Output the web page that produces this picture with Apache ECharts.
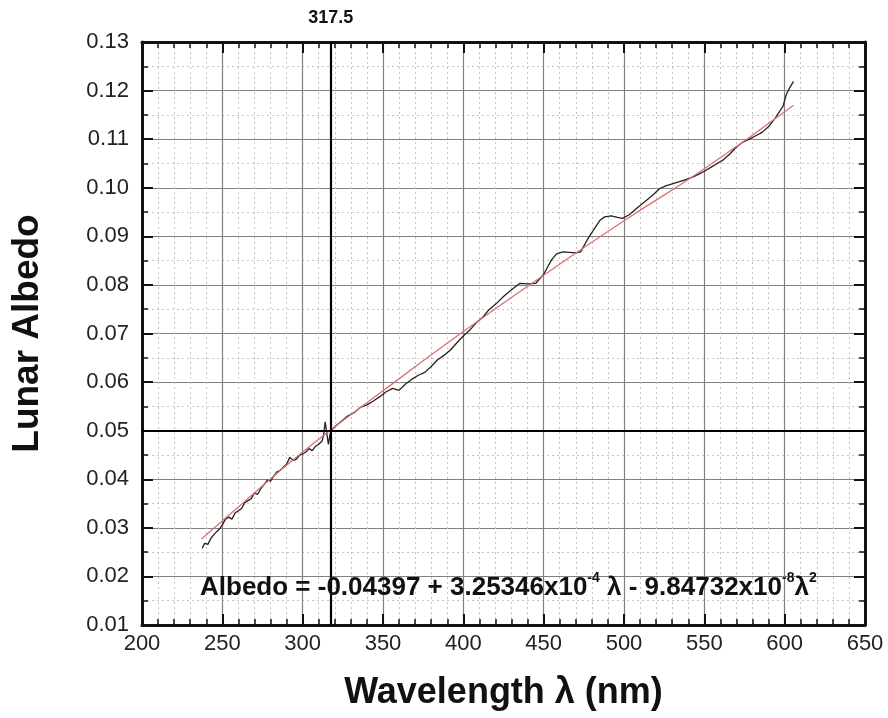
<!DOCTYPE html>
<html>
<head>
<meta charset="utf-8">
<title>Lunar Albedo</title>
<script src="https://cdn.jsdelivr.net/npm/echarts@6/dist/echarts.min.js"></script>
<style>
  html, body { margin: 0; padding: 0; background: #fff; }
  #chart { width: 888px; height: 718px; }
</style>
</head>
<body>
<div id="chart"></div>
<script>
// measured albedo (black trace)
var wavelength = [237.5, 239, 241, 243, 245, 248, 250, 252, 254, 256, 258, 260, 262, 264, 266, 268, 270, 272, 274, 276,
  278, 280, 282, 284, 286, 288, 290, 292, 294, 296, 298, 300, 302, 304, 306, 308, 310, 312, 313, 314, 315, 316, 317, 318,
  320, 324, 328, 332, 336, 340, 344, 348, 352, 356, 360, 364, 368, 372, 376, 380, 384, 388, 392, 396, 400, 404, 408, 412,
  416, 420, 425, 430, 435, 440, 445, 450, 455, 458, 462, 466, 470, 473, 477, 481, 485, 488, 492, 496, 499, 503, 507, 511,
  515, 519, 522, 526, 530, 534, 538, 542, 546, 550, 554, 558, 562, 566, 570, 574, 578, 582, 586, 590, 594, 597, 599, 601,
  603, 605.5];
var albedo = [0.0258, 0.0268, 0.0266, 0.0279, 0.0287, 0.0297, 0.0306, 0.0318, 0.0322, 0.0318, 0.0331, 0.0335, 0.0340,
  0.0352, 0.0356, 0.0360, 0.0372, 0.0369, 0.0381, 0.0389, 0.0398, 0.0396, 0.0407, 0.0415, 0.0418, 0.0425, 0.0431, 0.0445,
  0.0439, 0.0441, 0.0449, 0.0452, 0.0456, 0.0463, 0.0459, 0.0468, 0.0472, 0.0478, 0.0490, 0.0518, 0.0521, 0.0472, 0.0492,
  0.0502, 0.0508, 0.0519, 0.0530, 0.0537, 0.0548, 0.0553, 0.0561, 0.0570, 0.0580, 0.0587, 0.0583, 0.0596, 0.0606, 0.0614,
  0.0620, 0.0632, 0.0646, 0.0655, 0.0666, 0.0681, 0.0695, 0.0707, 0.0722, 0.0733, 0.0749, 0.0760, 0.0776, 0.0790, 0.0803,
  0.0802, 0.0803, 0.0822, 0.0852, 0.0864, 0.0868, 0.0867, 0.0866, 0.0868, 0.0892, 0.0913, 0.0933, 0.0940, 0.0942, 0.0939,
  0.0937, 0.0944, 0.0955, 0.0966, 0.0977, 0.0988, 0.0998, 0.1004, 0.1008, 0.1012, 0.1016, 0.1021, 0.1027, 0.1034, 0.1042,
  0.1050, 0.1058, 0.1070, 0.1084, 0.1094, 0.1100, 0.1107, 0.1114, 0.1126, 0.1143, 0.1158, 0.1168, 0.1192, 0.1205, 0.1219];

// fitted curve (red)
var fitWavelength = [237, 260, 300, 350, 400, 450, 500, 550, 605.5];
var fitAlbedo = [0.0277, 0.0343, 0.0456, 0.0582, 0.0704, 0.0820, 0.0932, 0.1039, 0.1170];

// reference lines
var markWavelength = 317.5;
var markAlbedo = 0.05;

var font = '"Liberation Sans", Arial, sans-serif';

function pairs(xs, ys) {
  var out = [];
  for (var i = 0; i < xs.length; i++) out.push([xs[i], ys[i]]);
  return out;
}

var chart = echarts.init(document.getElementById('chart'));

var tickStyle = { show: true, inside: true, length: 11, lineStyle: { color: '#111', width: 2 } };

chart.setOption({
  backgroundColor: '#fff',
  animation: false,
  textStyle: { fontFamily: font },
  grid: { left: 142, top: 42, right: 23, bottom: 93 },
  xAxis: [{
    type: 'value', min: 200, max: 650, interval: 50,
    name: 'Wavelength \u03bb (nm)', nameLocation: 'middle', nameGap: 50,
    nameTextStyle: { fontSize: 36, fontWeight: 'bold', color: '#111', fontFamily: font },
    axisLine: { lineStyle: { color: '#111', width: 3 } },
    axisTick: tickStyle,
    minorTick: { show: true, splitNumber: 5, length: 6, lineStyle: { color: '#111', width: 1.5 } },
    axisLabel: { fontSize: 22, color: '#222', margin: 8, fontFamily: font },
    splitLine: { show: true, lineStyle: { color: '#808080', width: 1.2 } },
    minorSplitLine: { show: true, lineStyle: { color: '#c4c4c4', width: 1, type: [2, 3] } }
  }, {
    type: 'value', min: 200, max: 650, interval: 50, position: 'top',
    axisLine: { lineStyle: { color: '#111', width: 3 } },
    axisTick: tickStyle,
    minorTick: { show: true, splitNumber: 5, length: 6, lineStyle: { color: '#111', width: 1.5 } },
    axisLabel: { show: false },
    splitLine: { show: false }
  }],
  yAxis: [{
    type: 'value', min: 0.01, max: 0.13, interval: 0.01,
    name: 'Lunar Albedo', nameLocation: 'middle', nameGap: 96,
    nameTextStyle: { fontSize: 37, fontWeight: 'bold', color: '#111', fontFamily: font },
    axisLine: { lineStyle: { color: '#111', width: 3 } },
    axisTick: tickStyle,
    minorTick: { show: true, splitNumber: 2, length: 6, lineStyle: { color: '#111', width: 1.5 } },
    axisLabel: { fontSize: 22, color: '#222', margin: 13, fontFamily: font,
      formatter: function (v) { return v.toFixed(2); } },
    splitLine: { show: true, lineStyle: { color: '#808080', width: 1.2 } },
    minorSplitLine: { show: true, lineStyle: { color: '#c4c4c4', width: 1, type: [2, 3] } }
  }, {
    type: 'value', min: 0.01, max: 0.13, interval: 0.01, position: 'right',
    axisLine: { lineStyle: { color: '#111', width: 3 } },
    axisTick: tickStyle,
    minorTick: { show: true, splitNumber: 2, length: 6, lineStyle: { color: '#111', width: 1.5 } },
    axisLabel: { show: false },
    splitLine: { show: false }
  }],
  series: [{
    name: 'fit',
    type: 'line',
    data: pairs(fitWavelength, fitAlbedo),
    smooth: true,
    showSymbol: false,
    lineStyle: { color: '#e07070', width: 1.3 },
    z: 3
  }, {
    name: 'albedo',
    type: 'line',
    data: pairs(wavelength, albedo),
    showSymbol: false,
    lineStyle: { color: '#222', width: 1.3 },
    z: 2,
    markLine: {
      silent: true,
      symbol: 'none',
      lineStyle: { color: '#000', width: 2.2, type: 'solid' },
      data: [
        { xAxis: markWavelength, label: { show: true, position: 'end', formatter: '317.5',
          fontSize: 18, fontWeight: 'bold', color: '#111', distance: 15, fontFamily: font } },
        { yAxis: markAlbedo, label: { show: false } }
      ]
    }
  }],
  graphic: [{
    type: 'text',
    left: 200,
    top: 571,
    z: 10,
    style: {
      text: '{b|Albedo = -0.04397 + 3.25346x10}{s|-4}{b| \u03bb - 9.84732x10}{s|-8}{b|\u03bb}{s|2}',
      rich: {
        b: { fontSize: 26, fontWeight: 'bold', fill: '#111', fontFamily: font, lineHeight: 30, verticalAlign: 'bottom' },
        s: { fontSize: 14, fontWeight: 'bold', fill: '#111', fontFamily: font, lineHeight: 30, verticalAlign: 'top' }
      }
    }
  }]
});
</script>
</body>
</html>
